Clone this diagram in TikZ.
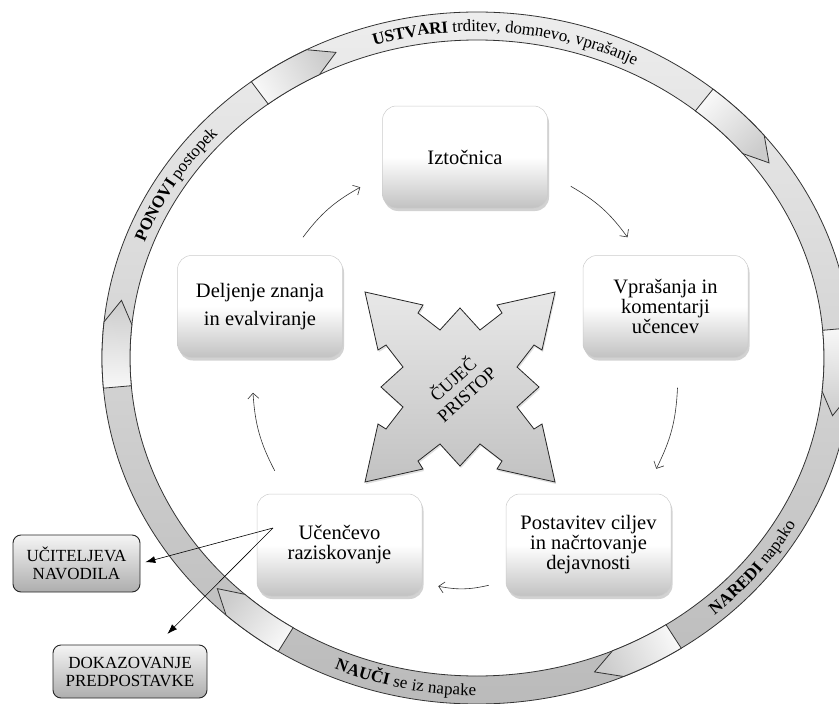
\documentclass[tikz,border=0pt]{standalone}
\usepackage{fontspec}
\setmainfont{Liberation Serif}
\usetikzlibrary{arrows.meta,shadows,decorations.text}
\tikzset{
  cyclebox/.style={rounded corners=14pt, minimum width=165pt, minimum height=102pt, inner sep=4pt,
    align=center, font=\fontsize{20.5}{21}\selectfont, draw=black!20, line width=0.5pt,
    top color=white, bottom color=black!24, middle color=white,
    drop shadow={shadow xshift=1.5pt, shadow yshift=-3pt, opacity=0.35}},
  sidebox/.style={rounded corners=8pt, draw=black!85, line width=0.9pt,
    top color=white!96!black, bottom color=black!32, align=center,
    font=\fontsize{17}{18}\selectfont, inner sep=2pt},
  flow/.style={-{Straight Barb[length=5.5pt,width=11pt]}, line width=0.6pt, black!80, bend left=12},
  pointer/.style={-{Latex[length=10pt,width=7pt]}, line width=0.6pt},
  ringedge/.style={draw=black!80, line width=0.8pt},
}
\newcommand\ringblock[2]{%
  \pgfmathsetmacro\rbc{#2+4}%
  \pgfmathsetmacro\rbm{(#1+#2)/2}%
  \path[ringedge, top color=white!97!black, bottom color=black!20, shading angle=\rbm]
   ({477+375*cos(#1)},{-358+346*sin(#1)})
   arc[start angle=#1, end angle=\rbc, x radius=375, y radius=346]
   -- ({477+361*cos(#2)},{-358+332*sin(#2)})
   -- ({477+347*cos(\rbc)},{-358+318*sin(\rbc)})
   arc[start angle=\rbc, end angle=#1, x radius=347, y radius=318] -- cycle;}
\begin{document}
\begin{tikzpicture}[x=1pt,y=1pt]
\useasboundingbox (0,0) rectangle (839,-704);
\clip (0,0) rectangle (839,-704);
\fill[white] (0,0) rectangle (839,-704);

% ring
\path[ringedge, even odd rule, top color=black!7, bottom color=black!27]
  (477,-358) ellipse [x radius=375, y radius=346]
  (477,-358) ellipse [x radius=347, y radius=318];

% arrow blocks on the ring
\ringblock{127}{113}
\ringblock{51}{36}
\ringblock{5}{-10}
\ringblock{-57}{-71}
\ringblock{-122}{-136}
\ringblock{185}{170}

% ring texts
\path[decorate, decoration={text along path, text align=center, raise=-5.5pt,
  text={|\fontsize{17}{17}\selectfont\bfseries|USTVARI |\fontsize{17}{17}\selectfont|trditev, domnevo, vprašanje}}]
  ({477+361*cos(140)},{-358+332*sin(140)}) arc[start angle=140, end angle=30, x radius=361, y radius=332];
\path[decorate, decoration={text along path, text align=center, raise=-5.5pt,
  text={|\fontsize{17}{17}\selectfont\bfseries|NAREDI |\fontsize{17}{17}\selectfont|napako}}]
  ({477+361*cos(-82)},{-358+332*sin(-82)}) arc[start angle=-82, end angle=5, x radius=361, y radius=332];
\path[decorate, decoration={text along path, text align=center, raise=-5.5pt,
  text={|\fontsize{17}{17}\selectfont\bfseries|NAUČI |\fontsize{17}{17}\selectfont|se iz napake}}]
  ({477+361*cos(-150)},{-358+332*sin(-150)}) arc[start angle=-150, end angle=-54, x radius=361, y radius=332];
\path[decorate, decoration={text along path, text align=center, raise=-5.5pt,
  text={|\fontsize{17}{17}\selectfont\bfseries|PONOVI |\fontsize{17}{17}\selectfont|postopek}}]
  ({477+361*cos(195)},{-358+332*sin(195)}) arc[start angle=195, end angle=103, x radius=361, y radius=332];

% star
\path[draw=black!85, line width=0.8pt, top color=black!9, bottom color=black!24,
      drop shadow={shadow xshift=1pt, shadow yshift=-2pt, opacity=0.25}, shift={(460,-387)}]
  (0,79) -- (20,57) -- (42,74) -- (37,82) -- (95,95) -- (82,37) -- (74,42) -- (57,20) --
  (79,0) -- (57,-20) -- (74,-42) -- (82,-37) -- (95,-95) -- (37,-82) -- (42,-74) -- (20,-57) --
  (0,-79) -- (-20,-57) -- (-42,-74) -- (-37,-82) -- (-95,-95) -- (-82,-37) -- (-74,-42) -- (-57,-20) --
  (-79,0) -- (-57,20) -- (-74,42) -- (-82,37) -- (-95,95) -- (-37,82) -- (-42,74) -- (-20,57) -- cycle;
\node[rotate=42, align=center, font=\fontsize{18}{20}\selectfont] (cuj) at (459,-386) {ČUJEČ\\PRISTOP};

% cycle boxes
\node[cyclebox] (izt) at (465,-157) {Iztočnica};
\node[cyclebox, font=\fontsize{20.5}{20}\selectfont] (vpr) at (665.5,-306.5) {Vprašanja in\\komentarji\\učencev};
\node[cyclebox, font=\fontsize{20.5}{20}\selectfont] (pos) at (588.5,-545) {Postavitev ciljev\\in načrtovanje\\dejavnosti};
\node[cyclebox, font=\fontsize{20.5}{20}\selectfont] (uce) at (339.5,-545) {Učenčevo\\raziskovanje};
\node[cyclebox, font=\fontsize{20.5}{28}\selectfont] (del) at (260,-306.5) {Deljenje znanja\\in evalviranje};

% side boxes
\node[sidebox, minimum width=127pt, minimum height=57pt] (ucit) at (76.5,-563.5) {UČITELJEVA\\NAVODILA};
\node[sidebox, minimum width=154pt, minimum height=53pt] (dok) at (130,-671.5) {DOKAZOVANJE\\PREDPOSTAVKE};

% cycle arrows
\draw[flow] ([xshift=23pt,yshift=22pt]izt.south east) to ([xshift=-38pt,yshift=18pt]vpr.north);
\draw[flow] ([xshift=12pt,yshift=-30pt]vpr.south) to ([xshift=-15pt,yshift=25pt]pos.north east);
\draw[flow] ([xshift=-17pt,yshift=11pt]pos.south west) to ([xshift=16pt,yshift=10pt]uce.south east);
\draw[flow] ([xshift=18pt,yshift=23pt]uce.north west) to ([xshift=-7pt,yshift=-35pt]del.south);
\draw[flow] ([xshift=43pt,yshift=18pt]del.north) to ([xshift=-22pt,yshift=21pt]izt.south west);

% pointers from student research
\coordinate (usrc) at (273,-528);
\draw[pointer, shorten >=5pt] (usrc) -- (ucit.east);
\draw[pointer, shorten >=15pt] (usrc) -- (dok);
\end{tikzpicture}
\end{document}
